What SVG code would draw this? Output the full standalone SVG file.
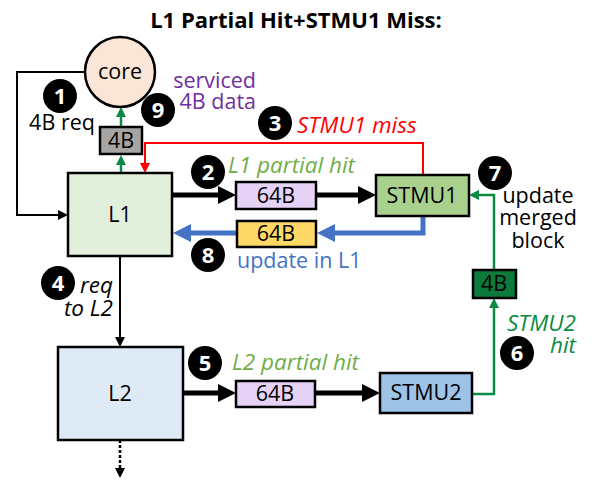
<svg xmlns="http://www.w3.org/2000/svg" width="592" height="480" viewBox="0 0 592 480">
<defs>
<style>
text{font-family:"Open Sans",Lato,"Liberation Sans",sans-serif;font-size:21.5px;fill:#000}
.box{stroke:#000;stroke-width:2.5}
.ctr{text-anchor:middle}
.it{font-style:italic;font-size:22.5px}
.badge circle{fill:#000}
.badge text{fill:#fff;font-weight:bold;text-anchor:middle;font-size:22px}
.ln{fill:none}
</style>
<marker id="hk" markerUnits="userSpaceOnUse" markerWidth="10" markerHeight="10" refX="2" refY="5" orient="auto"><path d="M0,0 L10,5 L0,10 z" fill="#000"/></marker>
<marker id="hr" markerUnits="userSpaceOnUse" markerWidth="10" markerHeight="10" refX="2" refY="5" orient="auto"><path d="M0,0 L10,5 L0,10 z" fill="#ff0000"/></marker>
<marker id="hg" markerUnits="userSpaceOnUse" markerWidth="10" markerHeight="10" refX="2" refY="5" orient="auto"><path d="M0,0 L10,5 L0,10 z" fill="#0b8a43"/></marker>
<marker id="hK" markerUnits="userSpaceOnUse" markerWidth="18" markerHeight="18" refX="3" refY="9" orient="auto"><path d="M0,0 L18,9 L0,18 z" fill="#000"/></marker>
<marker id="hB" markerUnits="userSpaceOnUse" markerWidth="18" markerHeight="18" refX="3" refY="9" orient="auto"><path d="M0,0 L18,9 L0,18 z" fill="#4472c4"/></marker>
</defs>
<rect width="592" height="480" fill="#fff"/>
<text x="296" y="28" class="ctr" font-weight="bold" style="font-size:22px">L1 Partial Hit+STMU1 Miss:</text>

<g id="connectors">
<path class="ln" d="M85,72 H17 V215 H60" stroke="#000" stroke-width="2" marker-end="url(#hk)"/>
<path class="ln" d="M121,173 V163" stroke="#0b8a43" stroke-width="2.5" marker-end="url(#hg)"/>
<path class="ln" d="M121,127 V115" stroke="#0b8a43" stroke-width="2.5" marker-end="url(#hg)"/>
<path class="ln" d="M423,175 V143 H145 V165" stroke="#ff0000" stroke-width="2" marker-end="url(#hr)"/>
<path class="ln" d="M172,195 H221" stroke="#000" stroke-width="5" marker-end="url(#hK)"/>
<path class="ln" d="M316,195 H361" stroke="#000" stroke-width="5" marker-end="url(#hK)"/>
<path class="ln" d="M423,216 V233 H332" stroke="#4472c4" stroke-width="5" marker-end="url(#hB)"/>
<path class="ln" d="M237,233 H188" stroke="#4472c4" stroke-width="5" marker-end="url(#hB)"/>
<path class="ln" d="M120,256 V339" stroke="#000" stroke-width="2" marker-end="url(#hk)"/>
<path class="ln" d="M120,440 V470" stroke="#000" stroke-width="2.5" stroke-dasharray="3,2" marker-end="url(#hk)"/>
<path class="ln" d="M183,393 H221" stroke="#000" stroke-width="5" marker-end="url(#hK)"/>
<path class="ln" d="M315,393 H365" stroke="#000" stroke-width="5" marker-end="url(#hK)"/>
<path class="ln" d="M472,394 H494 V306" stroke="#0b8a43" stroke-width="2.5" marker-end="url(#hg)"/>
<path class="ln" d="M494,270 V195 H477" stroke="#0b8a43" stroke-width="2.5" marker-end="url(#hg)"/>
</g>

<g id="core"><circle cx="120" cy="72" r="35" fill="#fbe5d6" stroke="#000" stroke-width="2.5"/><text x="120" y="79" class="ctr">core</text></g>
<g id="buf4b-gray"><rect class="box" x="100" y="127" width="42" height="27" fill="#a5a5a5"/><text x="121" y="148" class="ctr">4B</text></g>
<g id="L1"><rect class="box" x="68" y="173" width="104" height="83" fill="#e2efda"/><text x="120" y="222" class="ctr">L1</text></g>
<g id="buf64b-1"><rect class="box" x="236" y="182" width="80" height="27" fill="#e6d2f7"/><text x="276" y="203" class="ctr">64B</text></g>
<g id="STMU1"><rect class="box" x="376" y="175" width="93" height="41" fill="#a9d18e"/><text x="422" y="203" class="ctr">STMU1</text></g>
<g id="buf64b-yellow"><rect class="box" x="237" y="221" width="79" height="26" fill="#ffd966"/><text x="276" y="241" class="ctr">64B</text></g>
<g id="buf4b-green"><rect class="box" x="473" y="270" width="43" height="28" fill="#0b7a3b"/><text x="494" y="291" class="ctr">4B</text></g>
<g id="L2"><rect class="box" x="58" y="347" width="125" height="93" fill="#deebf7"/><text x="120" y="401" class="ctr">L2</text></g>
<g id="buf64b-2"><rect class="box" x="236" y="381" width="79" height="26" fill="#e6d2f7"/><text x="275" y="401" class="ctr">64B</text></g>
<g id="STMU2"><rect class="box" x="380" y="373" width="92" height="40" fill="#9dc3e6"/><text x="426" y="400" class="ctr">STMU2</text></g>

<g id="labels">
<text x="62" y="130" class="ctr">4B req</text>
<text text-anchor="end" style="fill:#7030a0"><tspan x="256" y="88">serviced</tspan><tspan x="256" y="109">4B data</tspan></text>
<text x="297" y="133" class="it" style="fill:#ff0000">STMU1 miss</text>
<text x="228" y="173" class="it" style="fill:#70ad47">L1 partial hit</text>
<text x="237" y="268" style="fill:#4472c4">update in L1</text>
<text class="ctr"><tspan x="538" y="203">update</tspan><tspan x="538" y="225">merged</tspan><tspan x="538" y="248">block</tspan></text>
<text text-anchor="end" class="it"><tspan x="113" y="293">req</tspan><tspan x="113" y="316">to L2</tspan></text>
<text x="232" y="370" class="it" style="fill:#70ad47">L2 partial hit</text>
<text text-anchor="end" class="it" style="fill:#0b8a43"><tspan x="576" y="331">STMU2</tspan><tspan x="576" y="353">hit</tspan></text>
</g>

<g id="badge1" class="badge"><circle cx="60" cy="96" r="17"/><text x="60" y="104">1</text></g>
<g id="badge2" class="badge"><circle cx="208" cy="172" r="17"/><text x="208" y="180">2</text></g>
<g id="badge3" class="badge"><circle cx="275" cy="123" r="17"/><text x="275" y="131">3</text></g>
<g id="badge4" class="badge"><circle cx="58" cy="283" r="17"/><text x="58" y="291">4</text></g>
<g id="badge5" class="badge"><circle cx="205" cy="363" r="17"/><text x="205" y="371">5</text></g>
<g id="badge6" class="badge"><circle cx="517" cy="353" r="17"/><text x="517" y="361">6</text></g>
<g id="badge7" class="badge"><circle cx="495" cy="173" r="17"/><text x="495" y="181">7</text></g>
<g id="badge8" class="badge"><circle cx="208" cy="255" r="17"/><text x="208" y="263">8</text></g>
<g id="badge9" class="badge"><circle cx="158" cy="110" r="17"/><text x="158" y="118">9</text></g>
</svg>
